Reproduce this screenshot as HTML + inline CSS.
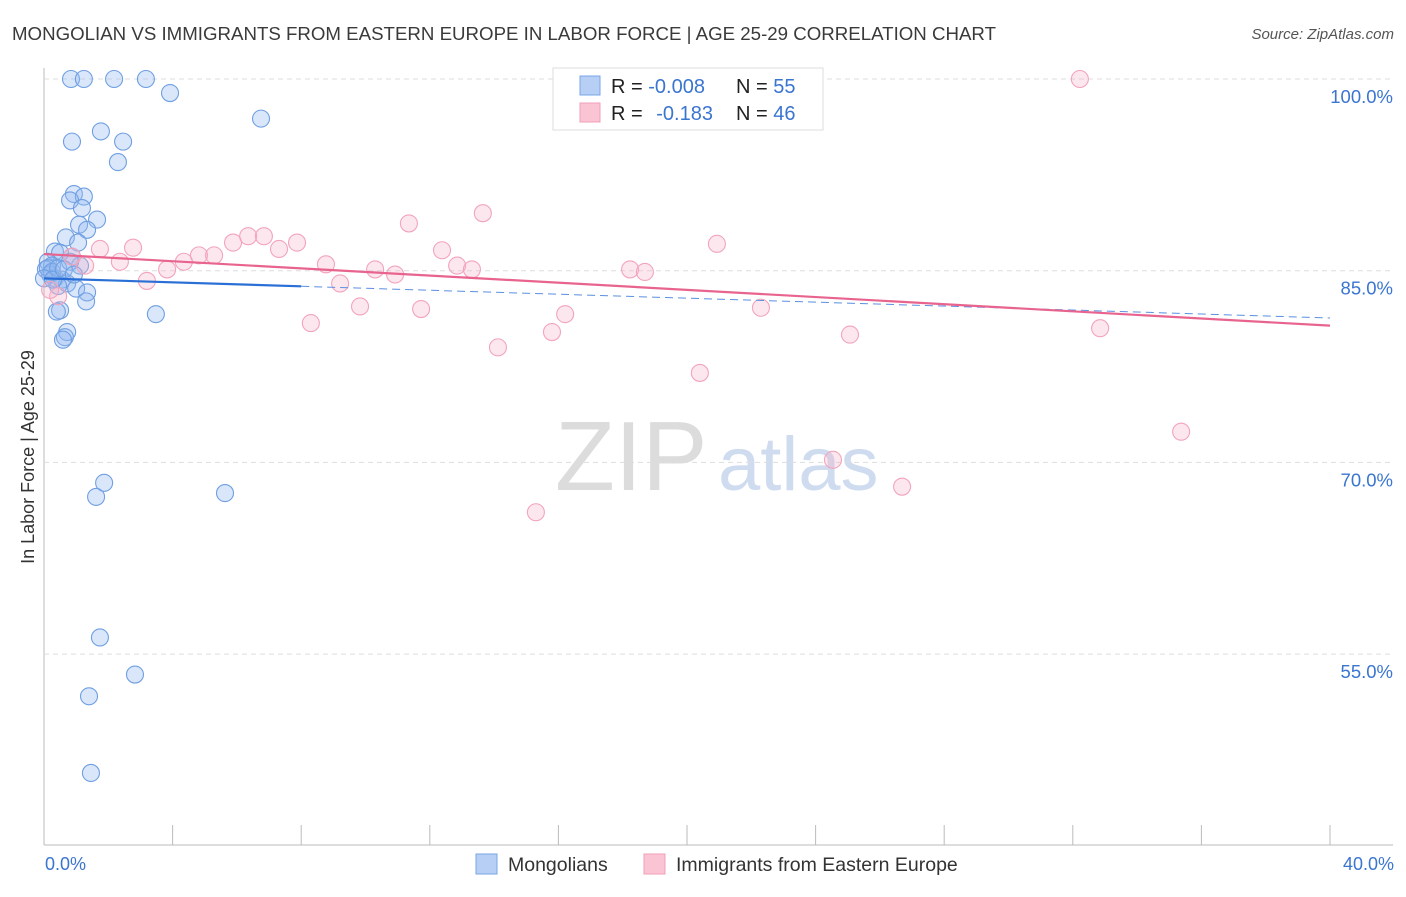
<!DOCTYPE html>
<html><head><meta charset="utf-8"><style>
body{margin:0;background:#fff;font-family:"Liberation Sans",sans-serif;}
svg text{font-family:"Liberation Sans",sans-serif;}
</style></head><body>
<svg id="chart" width="1406" height="892" xmlns="http://www.w3.org/2000/svg">
<text x="12" y="40" font-size="18.5" fill="#3a3a3a" textLength="984" lengthAdjust="spacingAndGlyphs">MONGOLIAN VS IMMIGRANTS FROM EASTERN EUROPE IN LABOR FORCE | AGE 25-29 CORRELATION CHART</text>
<text x="1394" y="39" font-size="15" fill="#555" text-anchor="end" font-style="italic">Source: ZipAtlas.com</text>
<text transform="translate(34,457) rotate(-90)" font-size="18" fill="#333" text-anchor="middle">In Labor Force | Age 25-29</text>
<text x="555" y="490" font-size="98" fill="#dcdcdc" font-family="Liberation Serif, serif">ZIP</text>
<text x="718" y="490" font-size="76" fill="#cfdcf0">atlas</text>
<g id="grid"></g><g id="pts"></g><g id="trend"></g>
<g>
<rect x="553" y="68" width="270" height="62" fill="#fff" stroke="#ddd"/>
<rect x="580" y="76" width="20" height="19" fill="#b8cff5" stroke="#7aa4e4"/>
<rect x="580" y="103" width="20" height="19" fill="#fac4d4" stroke="#f0a0b8"/>
<text x="611" y="93" font-size="20" fill="#222">R = <tspan fill="#3a75d0">-0.008</tspan></text>
<text x="736" y="93" font-size="20" fill="#222">N = <tspan fill="#3a75d0">55</tspan></text>
<text x="611" y="120" font-size="20" fill="#222">R =  <tspan fill="#3a75d0" dx="8">-0.183</tspan></text>
<text x="736" y="120" font-size="20" fill="#222">N = <tspan fill="#3a75d0">46</tspan></text>
</g>
<text x="45" y="870" font-size="18" fill="#3a75d0">0.0%</text>
<text x="1394" y="870" font-size="18" fill="#3a75d0" text-anchor="end">40.0%</text>
<g><rect x="476" y="854" width="21" height="20" fill="#b8cff5" stroke="#7aa4e4"/><text x="508" y="871" font-size="19.5" fill="#333">Mongolians</text></g>
<g><rect x="644" y="854" width="21" height="20" fill="#fac4d4" stroke="#f0a0b8"/><text x="676" y="871" font-size="19.5" fill="#333">Immigrants from Eastern Europe</text></g>
</svg>
<script>
const yTicks=[100,85,70,55];
const xTickVals=[0,4,8,12,16,20,24,28,32,36,40];
const blueX=[0.84,1.24,2.18,3.17,3.92,6.75,0.87,1.77,2.46,2.30,0.93,1.24,0.81,1.18,1.65,1.09,1.34,0.68,1.06,0.34,0.50,0.87,0.12,0.25,1.12,0.06,0.19,0.34,0.56,0.72,0.44,1.00,1.34,1.31,0.50,0.40,3.48,0.72,0.65,0.59,1.87,1.62,5.63,1.74,2.83,1.40,1.46,0.12,0.25,0.44,0.81,0.0,0.28,0.62,0.93];
const blueY=[100,100,100,100,98.9,96.9,95.1,95.9,95.1,93.5,91.0,90.8,90.5,89.9,89.0,88.6,88.2,87.6,87.2,86.5,86.4,86.1,85.7,85.4,85.4,85.1,84.7,84.4,84.3,84.0,83.8,83.6,83.3,82.6,81.9,81.8,81.6,80.2,79.8,79.6,68.4,67.3,67.6,56.3,53.4,51.7,45.7,85.2,84.9,85.2,85.7,84.4,84.3,85.1,84.7];
const pinkX=[0.44,1.74,2.36,2.77,3.20,3.83,4.35,4.82,5.29,5.88,6.35,6.84,7.31,7.87,8.30,8.77,9.21,9.83,10.30,10.92,11.35,11.73,12.38,12.85,13.31,13.65,14.12,15.30,15.80,16.21,18.23,18.69,20.40,20.93,22.30,24.54,25.07,26.69,32.22,32.85,35.37,19.69,21.18,0.87,0.19,1.28];
const pinkY=[83.0,86.7,85.7,86.8,84.2,85.1,85.7,86.2,86.2,87.2,87.7,87.7,86.7,87.2,80.9,85.5,84.0,82.2,85.1,84.7,88.7,82.0,86.6,85.4,85.1,89.5,79.0,66.1,80.2,81.6,85.1,84.9,77.0,87.1,82.1,70.2,80.0,68.1,100,80.5,72.4,100,100,86.1,83.5,85.4];
const blueTrend=[84.4,81.3];
const pinkTrend=[86.3,80.7];
const NS='http://www.w3.org/2000/svg';
const X=v=>44+v*32.15, Y=v=>79+(100-v)*12.78;
function mk(p,t,a){const e=document.createElementNS(NS,t);for(const k in a)e.setAttribute(k,a[k]);p.appendChild(e);return e;}
const g=document.getElementById('grid');
mk(g,'line',{x1:44,y1:68,x2:44,y2:845,stroke:'#bbb'});
mk(g,'line',{x1:44,y1:845,x2:1393,y2:845,stroke:'#bbb'});
yTicks.forEach(t=>{
 const l=mk(g,'line',{x1:44,y1:Y(t),x2:1393,y2:Y(t),stroke:'#ddd','stroke-dasharray':'5,4'});
 
 
 const tx=mk(g,'text',{x:1393,y:Y(t)+24,'font-size':18.5,fill:'#3a75d0','text-anchor':'end'});
 tx.textContent=t.toFixed(1)+'%';
 
 
});
xTickVals.slice(1).forEach(t=>{
 const l=mk(g,'line',{x1:X(t),y1:825,x2:X(t),y2:845,stroke:'#bbb'});
 
 
});
const p=document.getElementById('pts');
blueX.forEach((v,i)=>{
 const c=mk(p,'circle',{cx:X(v),cy:Y(blueY[i]),r:8.5,fill:'rgba(150,185,240,0.35)',stroke:'#6f9fe2','stroke-width':1.1});
 
 
});
pinkX.forEach((v,i)=>{
 const c=mk(p,'circle',{cx:X(v),cy:Y(pinkY[i]),r:8.5,fill:'rgba(248,175,198,0.3)',stroke:'#f2a4bc','stroke-width':1.1});
 
 
});
const tr=document.getElementById('trend');
const bAt=x=>blueTrend[0]+(blueTrend[1]-blueTrend[0])*x/40;
const b1=mk(tr,'line',{x1:X(0),y1:Y(bAt(0)),x2:X(8),y2:Y(bAt(8)),stroke:'#2a6fd6','stroke-width':2.2});


const b2=mk(tr,'line',{x1:X(8),y1:Y(bAt(8)),x2:X(40),y2:Y(bAt(40)),stroke:'#5a8fe0','stroke-width':1,'stroke-dasharray':'8,5'});


const pl=mk(tr,'line',{x1:X(0),y1:Y(pinkTrend[0]),x2:X(40),y2:Y(pinkTrend[1]),stroke:'#e8648e','stroke-width':2.2});


</script>
</body></html>
